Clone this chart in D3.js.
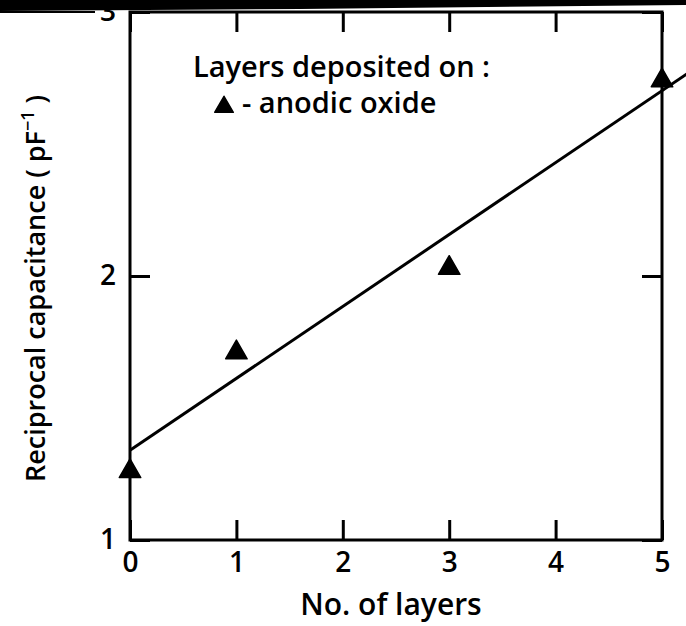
<!DOCTYPE html>
<html><head><meta charset="utf-8">
<script src="https://cdn.jsdelivr.net/npm/d3@7"></script>
<style>body{margin:0;background:#fff}svg{display:block}text{font-family:"Open Sans",sans-serif;fill:#000}</style>
</head><body><svg id="c" width="686" height="626"></svg>
<script>
const layers = [0, 1, 3, 5];
const reciprocalCap = [1.26, 1.71, 2.03, 2.74];
const fitLine = [[0, 1.34], [5.25, 2.77]];
const xTicks = [0, 1, 2, 3, 4, 5];
const yTicks = [1, 2, 3];
const xLabel = "No. of layers";
const legendTitle = "Layers deposited on :";
const legendItem = "- anodic oxide";

const svg = d3.select("#c");
const x = d3.scaleLinear().domain([0, 5]).range([130, 662]);
const y = d3.scaleLinear().domain([1, 3]).range([540, 12]);

const g = svg.append("g");
// frame
g.append("rect").attr("x", x(0)).attr("y", y(3)).attr("width", x(5) - x(0)).attr("height", y(1) - y(3))
  .attr("fill", "none").attr("stroke", "#000").attr("stroke-width", 3);

// axes with inward ticks
const tickLen = 20;
const xb = g.append("g").attr("transform", `translate(0,${y(1)})`)
  .call(d3.axisBottom(x).tickValues(xTicks).tickSize(-tickLen).tickPadding(12).tickFormat(d3.format("d")));
const xt = g.append("g").attr("transform", `translate(0,${y(3)})`)
  .call(d3.axisTop(x).tickValues(xTicks).tickSize(-tickLen).tickFormat(""));
const yl = g.append("g").attr("transform", `translate(${x(0)},0)`)
  .call(d3.axisLeft(y).tickValues(yTicks).tickSize(-tickLen).tickPadding(14).tickFormat(d3.format("d")));
const yr = g.append("g").attr("transform", `translate(${x(5)},0)`)
  .call(d3.axisRight(y).tickValues(yTicks).tickSize(-tickLen).tickFormat(""));
[xb, xt, yl, yr].forEach(a => {
  a.select(".domain").remove();
  a.selectAll(".tick line").attr("stroke", "#000").attr("stroke-width", 3);
  a.selectAll("text").attr("font-size", 28).attr("font-family", "Open Sans").attr("font-weight", 600).attr("fill", "#000");
});

// fit line
g.append("line").attr("x1", x(fitLine[0][0])).attr("y1", y(fitLine[0][1]))
  .attr("x2", x(fitLine[1][0])).attr("y2", y(fitLine[1][1]))
  .attr("stroke", "#000").attr("stroke-width", 3);

// points
const tri = d3.symbol().type(d3.symbolTriangle).size(200);
g.selectAll(".pt").data(layers).join("path").attr("class", "pt")
  .attr("transform", (d, i) => `translate(${x(d)},${y(reciprocalCap[i])})`)
  .attr("d", tri).attr("fill", "#000").attr("stroke", "#000").attr("stroke-linejoin", "round").attr("stroke-width", 1.5);

// legend
g.append("text").attr("x", 193).attr("y", 77).attr("font-size", 29).attr("font-weight", 600).text(legendTitle);
g.append("path").attr("transform", "translate(224,107)").attr("d", d3.symbol().type(d3.symbolTriangle).size(150)).attr("fill", "#000")
  .attr("stroke", "#000").attr("stroke-width", 1.5).attr("stroke-linejoin", "round");
g.append("text").attr("x", 242).attr("y", 113).attr("font-size", 29).attr("font-weight", 600).text(legendItem);

// scan artifact bar at top
svg.append("path").attr("d", "M0,0 H686 V5 L300,9 L0,11 Z").attr("fill", "#000");
svg.append("line").attr("x1", 0).attr("x2", 95).attr("y1", 12).attr("y2", 12).attr("stroke", "#000").attr("stroke-width", 2);

// axis labels
svg.append("text").attr("x", 391).attr("y", 615).attr("text-anchor", "middle").attr("font-size", 30).attr("font-weight", 600).text(xLabel);
const yt = svg.append("text").attr("transform", "translate(45,482) rotate(-90)").attr("text-anchor", "start")
  .attr("font-size", 27).attr("font-weight", 600);
yt.append("tspan").text("Reciprocal capacitance ( pF");
yt.append("tspan").attr("dy", -11).attr("font-size", 18).text("−1");
yt.append("tspan").attr("dy", 11).text(" )");
</script></body></html>
